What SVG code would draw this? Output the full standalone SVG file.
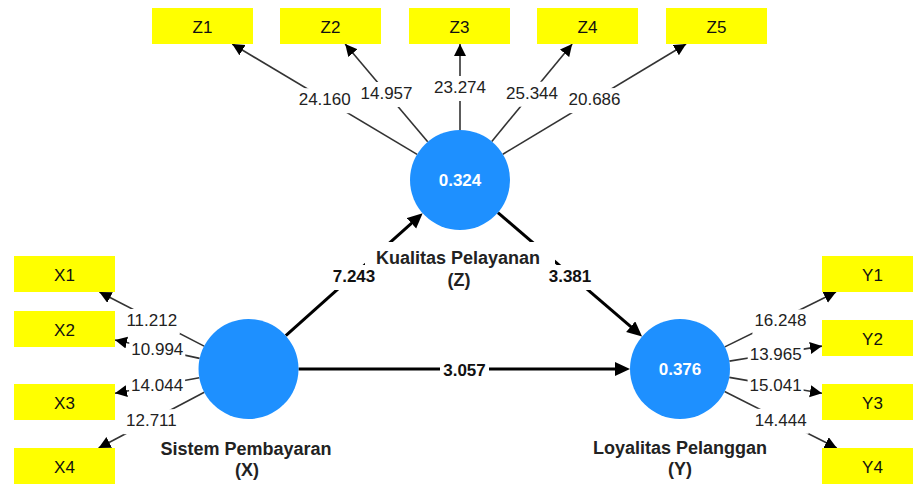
<svg xmlns="http://www.w3.org/2000/svg" width="913" height="484" viewBox="0 0 913 484">
<style>
text{font-family:"Liberation Sans",Arial,sans-serif;}
.box{fill:#FFFF00;}
.bt{font-size:17px;fill:#111;text-anchor:middle;}
.lv{fill:#1E90FF;}
.lvt{font-size:17px;font-weight:bold;fill:#fff;text-anchor:middle;}
.nm{font-size:18px;font-weight:bold;fill:#222;text-anchor:middle;}
.ind{stroke:#333;stroke-width:1.6;fill:none;marker-end:url(#ah);}
.str{stroke:#000;stroke-width:3;fill:none;marker-end:url(#ahb);}
.lb{font-size:17px;fill:#222;text-anchor:middle;}
.lbb{font-size:17px;font-weight:bold;fill:#111;text-anchor:middle;}
.bg{fill:#fff;}
</style>
<defs>
<marker id="ah" markerUnits="userSpaceOnUse" markerWidth="13" markerHeight="13" refX="12" refY="6" orient="auto">
<path d="M0,0 L12,6 L0,12 z" fill="#000"/>
</marker>
<marker id="ahb" markerUnits="userSpaceOnUse" markerWidth="16" markerHeight="15" refX="7" refY="7" orient="auto">
<path d="M0,0 L15,7 L0,14 z" fill="#000"/>
</marker>
</defs>
<rect width="913" height="484" fill="#fff"/>

<g id="connectors">
<line class="ind" x1="417.1" y1="154.4" x2="232.2" y2="44"/>
<line class="ind" x1="427.7" y1="141.8" x2="345.2" y2="44"/>
<line class="ind" x1="460" y1="130" x2="460" y2="44"/>
<line class="ind" x1="491.8" y1="141.4" x2="572.2" y2="44"/>
<line class="ind" x1="502.8" y1="154.2" x2="686.1" y2="44"/>
<line class="ind" x1="204.1" y1="346.1" x2="99.4" y2="292"/>
<line class="ind" x1="199.6" y1="358.4" x2="115" y2="340"/>
<line class="ind" x1="199.3" y1="377.8" x2="115" y2="393.3"/>
<line class="ind" x1="204.3" y1="392.3" x2="98.6" y2="448"/>
<line class="ind" x1="724.8" y1="346.9" x2="836" y2="292"/>
<line class="ind" x1="729.4" y1="361.1" x2="822" y2="346.1"/>
<line class="ind" x1="729.3" y1="377.4" x2="822" y2="393.3"/>
<line class="ind" x1="724.6" y1="391.5" x2="836.8" y2="448"/>
<line class="str" x1="285.8" y1="335.7" x2="416.7" y2="218.6"/>
<line class="str" x1="497.9" y1="212.6" x2="636" y2="331.2"/>
<line class="str" x1="298.5" y1="369" x2="622" y2="369"/>

<rect class="bg" x="296.7" y="88.2" width="56" height="25"/>
<text class="lb" x="324.7" y="105.2">24.160</text>
<rect class="bg" x="358.5" y="82" width="56" height="25"/>
<text class="lb" x="386.5" y="99">14.957</text>
<rect class="bg" x="432" y="76" width="56" height="25"/>
<text class="lb" x="460" y="93">23.274</text>
<rect class="bg" x="504" y="81.7" width="56" height="25"/>
<text class="lb" x="532" y="98.7">25.344</text>
<rect class="bg" x="566.5" y="88.1" width="56" height="25"/>
<text class="lb" x="594.5" y="105.1">20.686</text>

<rect class="bg" x="123.8" y="309" width="56" height="25"/>
<text class="lb" x="151.8" y="326">11.212</text>
<rect class="bg" x="129.3" y="338.2" width="56" height="25"/>
<text class="lb" x="157.3" y="355.2">10.994</text>
<rect class="bg" x="129.1" y="374.4" width="56" height="25"/>
<text class="lb" x="157.1" y="391.4">14.044</text>
<rect class="bg" x="123.4" y="409.2" width="56" height="25"/>
<text class="lb" x="151.4" y="426.2">12.711</text>

<rect class="bg" x="752.4" y="309.4" width="56" height="25"/>
<text class="lb" x="780.4" y="326.4">16.248</text>
<rect class="bg" x="747.7" y="342.6" width="56" height="25"/>
<text class="lb" x="775.7" y="359.6">13.965</text>
<rect class="bg" x="747.6" y="374.4" width="56" height="25"/>
<text class="lb" x="775.6" y="391.4">15.041</text>
<rect class="bg" x="752.7" y="408.8" width="56" height="25"/>
<text class="lb" x="780.7" y="425.8">14.444</text>

<rect class="bg" x="330" y="265" width="48" height="25"/>
<text class="lbb" x="354" y="281.5">7.243</text>
<rect class="bg" x="546" y="265" width="48" height="25"/>
<text class="lbb" x="570" y="281.5">3.381</text>
<rect class="bg" x="440" y="358" width="49" height="23"/>
<text class="lbb" x="464.5" y="376">3.057</text>
</g>

<g id="Z">
<circle class="lv" cx="460" cy="180" r="50"/>
<text class="lvt" x="460" y="186">0.324</text>
<rect class="bg" x="365" y="242" width="190" height="26"/>
<text class="nm" x="458" y="264">Kualitas Pelayanan</text>
<text class="nm" x="459" y="286">(Z)</text>
</g>
<g id="X">
<circle class="lv" cx="248.5" cy="369" r="50"/>
<text class="nm" x="246" y="455">Sistem Pembayaran</text>
<text class="nm" x="247" y="476">(X)</text>
</g>
<g id="Y">
<circle class="lv" cx="680" cy="369" r="50"/>
<text class="lvt" x="680" y="375">0.376</text>
<text class="nm" x="680" y="454">Loyalitas Pelanggan</text>
<text class="nm" x="680" y="475">(Y)</text>
</g>

<g id="Z1"><rect class="box" x="152" y="8" width="101" height="36"/><text class="bt" x="202.5" y="33">Z1</text></g>
<g id="Z2"><rect class="box" x="280" y="8" width="101" height="36"/><text class="bt" x="330.5" y="33">Z2</text></g>
<g id="Z3"><rect class="box" x="409" y="8" width="101" height="36"/><text class="bt" x="459.5" y="33">Z3</text></g>
<g id="Z4"><rect class="box" x="537" y="8" width="101" height="36"/><text class="bt" x="587.5" y="33">Z4</text></g>
<g id="Z5"><rect class="box" x="666" y="8" width="101" height="36"/><text class="bt" x="716.5" y="33">Z5</text></g>

<g id="X1"><rect class="box" x="14" y="256" width="101" height="36"/><text class="bt" x="64.5" y="281">X1</text></g>
<g id="X2"><rect class="box" x="14" y="311" width="101" height="36"/><text class="bt" x="64.5" y="336">X2</text></g>
<g id="X3"><rect class="box" x="14" y="384" width="101" height="36"/><text class="bt" x="64.5" y="409">X3</text></g>
<g id="X4"><rect class="box" x="14" y="448" width="101" height="36"/><text class="bt" x="64.5" y="473">X4</text></g>

<g id="Y1"><rect class="box" x="822" y="256" width="101" height="36"/><text class="bt" x="872.5" y="281">Y1</text></g>
<g id="Y2"><rect class="box" x="822" y="320" width="101" height="36"/><text class="bt" x="872.5" y="345">Y2</text></g>
<g id="Y3"><rect class="box" x="822" y="384" width="101" height="36"/><text class="bt" x="872.5" y="409">Y3</text></g>
<g id="Y4"><rect class="box" x="822" y="448" width="101" height="36"/><text class="bt" x="872.5" y="473">Y4</text></g>
</svg>
